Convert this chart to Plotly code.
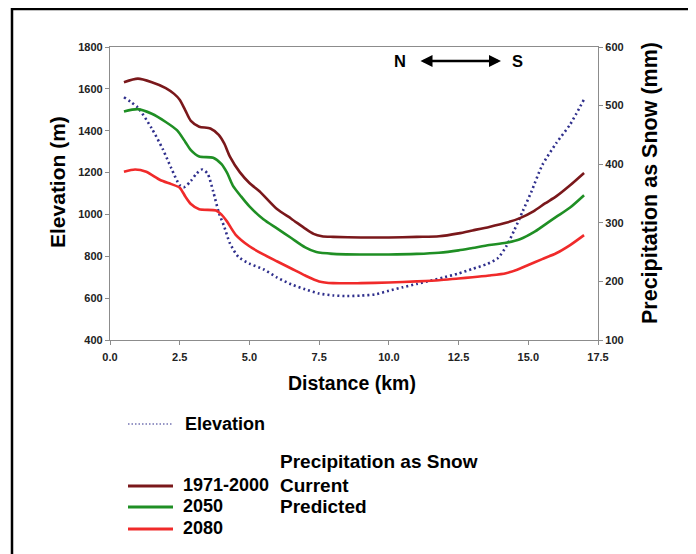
import plotly.graph_objects as go

# ---------------- data ----------------
elev_km = [0.5, 1.0, 1.5, 1.9, 2.2, 2.5, 2.65, 2.9, 3.1, 3.3, 3.5, 3.7, 3.9, 4.1, 4.3, 4.6,
           5.0, 5.5, 6.0, 6.5, 7.0, 7.5, 8.0, 8.5, 9.0, 9.5, 10.0, 10.5, 11.0, 11.5, 12.0,
           12.5, 13.0, 13.5, 13.9, 14.2, 14.5, 14.8, 15.1, 15.5, 16.0, 16.5, 17.0]
elev_m = [1560, 1510, 1410, 1310, 1220, 1140, 1130, 1160, 1195, 1215, 1195, 1110, 1010, 940, 862, 798,
          765, 738, 698, 666, 642, 622, 613, 610, 612, 618, 635, 652, 668, 684, 700,
          718, 740, 762, 790, 845, 925, 1015, 1105, 1235, 1340, 1430, 1550]

p1971_km = [0.5, 1.0, 1.5, 2.0, 2.3, 2.5, 2.7, 2.9, 3.2, 3.6, 3.9, 4.1, 4.3, 4.66, 5.0, 5.4,
            6.0, 6.5, 7.0, 7.3, 7.6, 8.0, 9.0, 10.0, 11.0, 11.8, 12.5, 13.0, 13.6, 14.2,
            14.7, 15.2, 15.6, 16.0, 16.5, 17.0]
p1971_mm = [540, 546, 540, 530, 520, 510, 492, 474, 464, 461, 450, 435, 413, 386, 368, 352,
            323, 307, 290, 281, 277, 276, 275, 275, 276, 277, 282, 287, 293, 300,
            308, 320, 333, 345, 364, 385]

p2050_km = [0.5, 1.0, 1.5, 2.0, 2.4, 2.7, 2.9, 3.2, 3.7, 4.0, 4.2, 4.4, 4.7, 5.0, 5.5,
            6.0, 6.5, 7.0, 7.4, 8.0, 9.0, 10.0, 11.0, 11.8, 12.5, 13.0, 13.6, 14.2,
            14.7, 15.2, 15.6, 16.0, 16.5, 17.0]
p2050_mm = [490, 494, 486, 472, 458, 438, 424, 413, 411, 400, 385, 364, 345, 328, 306,
            290, 274, 258, 250, 247, 246, 246, 247, 249, 253, 257, 262, 266,
            272, 284, 297, 310, 326, 347]

p2080_km = [0.5, 0.9, 1.3, 1.8, 2.2, 2.5, 2.7, 2.9, 3.2, 3.8, 4.0, 4.2, 4.5, 5.0, 5.5,
            6.0, 6.5, 7.0, 7.5, 8.0, 9.0, 10.0, 11.0, 11.8, 12.5, 13.0, 13.6, 14.2,
            14.6, 15.0, 15.5, 16.0, 16.5, 17.0]
p2080_mm = [387, 391, 387, 373, 366, 360, 345, 332, 323, 321, 314, 302, 280, 260, 246,
            234, 222, 210, 200, 197, 197, 198, 200, 202, 205, 207, 210, 214,
            220, 228, 238, 248, 262, 279]

x_ticks = [0.0, 2.5, 5.0, 7.5, 10.0, 12.5, 15.0, 17.5]
elev_ticks = [400, 600, 800, 1000, 1200, 1400, 1600, 1800]
snow_ticks = [100, 200, 300, 400, 500, 600]

series_names = ["1971-2000", "2050", "2080"]
series_colors = ["#7a181b", "#1f8f24", "#f02a2a"]
elev_color = "#2f2f8c"

# ---------------- figure ----------------
# page has an 8px body margin, so the figure is drawn 8px in from the top-left
OFF = 8
W, H = 696 - OFF, 554 - OFF
L, T = 110 - OFF, 47 - OFF
R = W - (598 - OFF)
B = H - (340 - OFF)
PW, PH = W - L - R, H - T - B


def px(xp):  # page pixel x -> paper
    return (xp - OFF - L) / PW


def py(yp):  # page pixel y -> paper
    return (H - B - (yp - OFF)) / PH


FONT = "Liberation Sans, Arial, sans-serif"

fig = go.Figure()
fig.add_trace(go.Scatter(x=elev_km, y=elev_m, mode="lines", name="Elevation",
                         line=dict(color=elev_color, width=2.6, dash="2px,3px",
                                   shape="spline", smoothing=0.7),
                         yaxis="y"))
for kms, vals, name, col in [(p1971_km, p1971_mm, series_names[0], series_colors[0]),
                             (p2050_km, p2050_mm, series_names[1], series_colors[1]),
                             (p2080_km, p2080_mm, series_names[2], series_colors[2])]:
    fig.add_trace(go.Scatter(x=kms, y=vals, mode="lines", name=name,
                             line=dict(color=col, width=2.6, shape="spline", smoothing=0.7),
                             yaxis="y2"))

tickfont = dict(family=FONT, size=11, color="#222222", weight="bold")
axis_common = dict(showgrid=False, zeroline=False, showline=True, linecolor="#8c8c8c",
                   linewidth=1.3, ticks="outside", ticklen=4, tickwidth=1.2,
                   tickcolor="#8c8c8c", tickfont=tickfont)

fig.update_layout(
    width=W, height=H, autosize=False,
    margin=dict(l=L, r=R, t=T, b=B, pad=0),
    paper_bgcolor="white", plot_bgcolor="white",
    showlegend=False,
    xaxis=dict(range=[0, 17.5], tickvals=x_ticks, tickformat=".1f", mirror=True,
               ticklabelstandoff=3, **axis_common),
    yaxis=dict(range=[400, 1800], tickvals=elev_ticks, **axis_common),
    yaxis2=dict(range=[100, 600], tickvals=snow_ticks, overlaying="y", side="right",
                **axis_common),
)

ann = []
# axis titles
ann.append(dict(text="Elevation (m)", x=px(57), y=py(182), xref="paper", yref="paper",
                showarrow=False, textangle=-90, xanchor="center", yanchor="middle",
                font=dict(family=FONT, size=21, color="black", weight="bold")))
ann.append(dict(text="Precipitation as Snow (mm)", x=px(650), y=py(183), xref="paper",
                yref="paper", showarrow=False, textangle=-90, xanchor="center",
                yanchor="middle",
                font=dict(family=FONT, size=21.5, color="black", weight="bold")))
ann.append(dict(text="Distance (km)", x=px(352), y=py(383), xref="paper", yref="paper",
                showarrow=False, xanchor="center", yanchor="middle",
                font=dict(family=FONT, size=19.5, color="black", weight="bold")))
# N <-> S
ann.append(dict(text="N", x=px(400), y=py(61), xref="paper", yref="paper", showarrow=False,
                xanchor="center", yanchor="middle",
                font=dict(family=FONT, size=16.5, color="black", weight="bold")))
ann.append(dict(text="S", x=px(517), y=py(61), xref="paper", yref="paper", showarrow=False,
                xanchor="center", yanchor="middle",
                font=dict(family=FONT, size=16.5, color="black", weight="bold")))
ann.append(dict(text="", x=px(501), y=py(61), xref="paper", yref="paper", showarrow=True,
                ax=-82, ay=0, arrowside="end+start", arrowhead=2, arrowsize=1,
                arrowwidth=2.4, arrowcolor="black", standoff=0, startstandoff=0))

# custom legend
LEG_FONT = dict(family=FONT, size=18, color="black", weight="bold")
HEAD_FONT = dict(family=FONT, size=19, color="black", weight="bold")
ann.append(dict(text="Elevation", x=px(183), y=py(424), xref="paper", yref="paper",
                showarrow=False, xanchor="left", yanchor="middle", font=LEG_FONT))
ann.append(dict(text="Precipitation as Snow", x=px(278), y=py(461), xref="paper",
                yref="paper", showarrow=False, xanchor="left", yanchor="middle",
                font=HEAD_FONT))
ann.append(dict(text="Current", x=px(278), y=py(485), xref="paper", yref="paper",
                showarrow=False, xanchor="left", yanchor="middle", font=HEAD_FONT))
ann.append(dict(text="Predicted", x=px(278), y=py(506), xref="paper", yref="paper",
                showarrow=False, xanchor="left", yanchor="middle", font=HEAD_FONT))
shapes = []
shapes.append(dict(type="line", xref="paper", yref="paper", x0=px(128), x1=px(173),
                   y0=py(424), y1=py(424),
                   line=dict(color=elev_color, width=1.2, dash="1.5px,2px")))
for name, col, yp in zip(series_names, series_colors, [486, 507, 529]):
    shapes.append(dict(type="line", xref="paper", yref="paper", x0=px(128), x1=px(173),
                       y0=py(yp), y1=py(yp), line=dict(color=col, width=3)))
    ann.append(dict(text=name, x=px(181), y=py(yp - 1), xref="paper", yref="paper",
                    showarrow=False, xanchor="left", yanchor="middle", font=LEG_FONT))

# outer frame
shapes.append(dict(type="rect", xref="paper", yref="paper", x0=px(12), x1=px(691),
                   y0=py(600), y1=py(9), line=dict(color="black", width=2.5),
                   fillcolor="rgba(0,0,0,0)", layer="above"))

fig.update_layout(annotations=ann, shapes=shapes)
fig.write_html("out.html")
